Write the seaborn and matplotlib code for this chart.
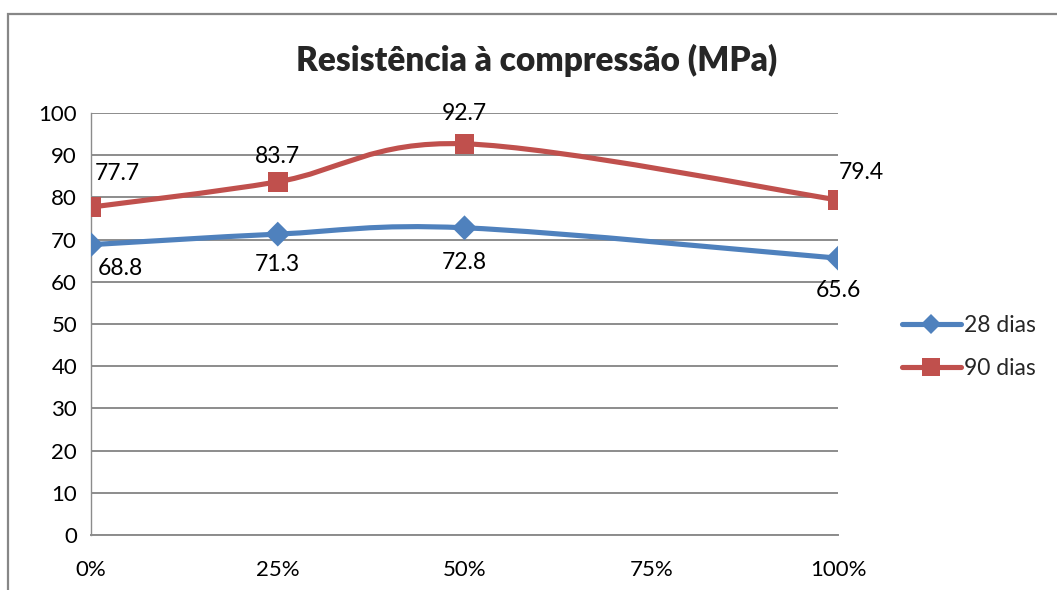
import matplotlib
matplotlib.use("Agg")
import matplotlib.pyplot as plt
from matplotlib.path import Path
from matplotlib.patches import PathPatch, Rectangle
from matplotlib.lines import Line2D
import seaborn as sns
import pandas as pd

# Replacement levels (%) and compressive strength (MPa)
substituicao = [0, 25, 50, 100]
tick_pos = [0, 25, 50, 75, 100]
tick_labels = ["0%", "25%", "50%", "75%", "100%"]
serie_28 = [68.8, 71.3, 72.8, 65.6]
serie_90 = [77.7, 83.7, 92.7, 79.4]
series_names = ["28 dias", "90 dias"]

AZUL = "#4F81BD"
VERMELHO = "#C0504D"
GRID = "#8C8C8C"

sns.set_theme(style="white")
plt.rcParams["font.family"] = ["Lato", "DejaVu Sans"]

fig = plt.figure(figsize=(10.57, 5.9), dpi=100)
ax = fig.add_axes([91 / 1057, 1 - 535 / 590, (838 - 91) / 1057, (535 - 113) / 590])

# outer chart frame
fig.patches.append(Rectangle((8 / 1057, -0.1), 1.2, 1 - 14 / 590 + 0.1,
                             transform=fig.transFigure, fill=False,
                             edgecolor="#878787", linewidth=1.6, zorder=0))


def smooth_path(xs, ys):
    """Cardinal-spline Bezier path through the points."""
    pts = list(zip(xs, ys))
    n = len(pts)
    verts = [pts[0]]
    codes = [Path.MOVETO]
    for i in range(n - 1):
        p0 = pts[i - 1] if i > 0 else pts[i]
        p1 = pts[i]
        p2 = pts[i + 1]
        p3 = pts[i + 2] if i + 2 < n else pts[i + 1]
        c1 = (p1[0] + (p2[0] - p0[0]) / 6, p1[1] + (p2[1] - p0[1]) / 6)
        c2 = (p2[0] - (p3[0] - p1[0]) / 6, p2[1] - (p3[1] - p1[1]) / 6)
        verts += [c1, c2, p2]
        codes += [Path.CURVE4] * 3
    return Path(verts, codes)


df = pd.DataFrame({
    "x": substituicao * 2,
    "y": serie_28 + serie_90,
    "serie": [series_names[0]] * 4 + [series_names[1]] * 4,
})

for ys, col in [(serie_28, AZUL), (serie_90, VERMELHO)]:
    ax.add_patch(PathPatch(smooth_path(substituicao, ys), facecolor="none",
                           edgecolor=col, linewidth=3.7, zorder=3,
                           capstyle="round", joinstyle="round"))

sns.scatterplot(data=df, x="x", y="y", hue="serie", style="serie", size="serie",
                markers={series_names[0]: "D", series_names[1]: "s"},
                palette={series_names[0]: AZUL, series_names[1]: VERMELHO},
                sizes={series_names[0]: 160, series_names[1]: 200},
                edgecolor="none", linewidth=0, legend=False,
                ax=ax, zorder=4)

# data labels (offsets in points)
off_28 = [(21, -17), (0, -22), (0, -25), (0, -23)]
off_90 = [(19, 24), (0, 18), (0, 22), (17, 20)]
for xs, ys, offs in [(substituicao, serie_28, off_28), (substituicao, serie_90, off_90)]:
    for x, y, (dx, dy) in zip(xs, ys, offs):
        ax.annotate(f"{y:.1f}", (x, y), xytext=(dx, dy), textcoords="offset points",
                    ha="center", va="center", fontsize=16.5, color="black", zorder=5)

ax.set_xlim(0, 100)
ax.set_ylim(0, 100)
ax.set_xticks(tick_pos)
ax.set_xticklabels(tick_labels)
ax.set_yticks(range(0, 101, 10))
ax.tick_params(axis="both", labelsize=16, colors=GRID, labelcolor="black",
               direction="out", length=6, width=1.2)
ax.tick_params(axis="x", pad=12)
ax.tick_params(axis="y", pad=4)
ax.grid(axis="y", color=GRID, linewidth=1.4)
ax.set_axisbelow(True)
for side in ["top", "right"]:
    ax.spines[side].set_visible(False)
ax.spines["left"].set_color(GRID)
ax.spines["left"].set_linewidth(1.0)
ax.spines["bottom"].set_color(GRID)
ax.spines["bottom"].set_linewidth(1.4)
ax.set_xlabel("")
ax.set_ylabel("")

fig.text(537 / 1057, 1 - 60 / 590, "Resistência à compressão (MPa)",
         ha="center", va="center", fontsize=24, fontweight="heavy")

handles = [
    Line2D([], [], color=AZUL, linewidth=3.7, marker="D", markersize=10.5, markeredgewidth=0),
    Line2D([], [], color=VERMELHO, linewidth=3.7, marker="s", markersize=13, markeredgewidth=0),
]
fig.legend(handles, series_names, loc="center left",
           bbox_to_anchor=(881 / 1057, 1 - 347 / 590), frameon=False,
           fontsize=16.5, handlelength=2.6, handletextpad=0.1, labelspacing=1.0)

fig.savefig("out.png", dpi=100)
